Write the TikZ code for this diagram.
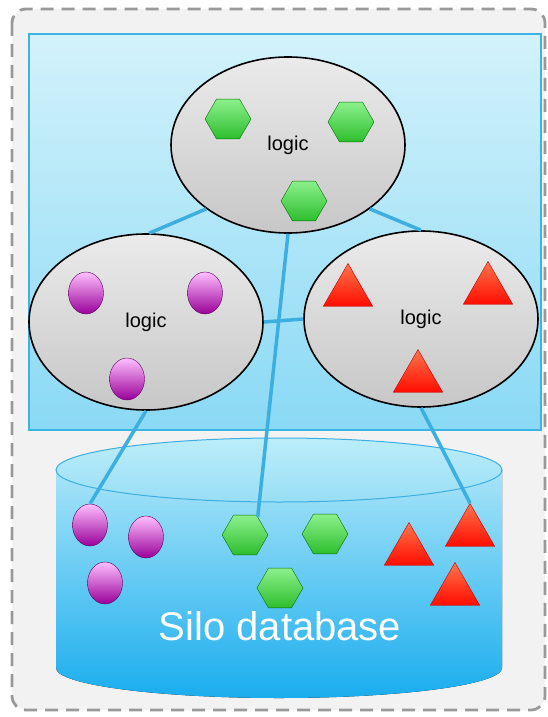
\documentclass[tikz,border=0pt]{standalone}
\usepackage{fontspec}
\setmainfont{Liberation Sans}
\usetikzlibrary{shapes.geometric}
\definecolor{linkblue}{HTML}{3DAEE0}
\definecolor{frameblue}{HTML}{3BB3E3}
\definecolor{skytop}{HTML}{D3F2FB}
\definecolor{skybot}{HTML}{8AD9F5}
\definecolor{dbtop}{HTML}{A8E4F8}
\definecolor{dbbot}{HTML}{1AADEE}
\definecolor{lidtop}{HTML}{BCEDFA}
\definecolor{lidbot}{HTML}{98DEF5}
\definecolor{hextop}{HTML}{8CF08C}
\definecolor{hexbot}{HTML}{2DBE2D}
\begin{document}
\begin{tikzpicture}
          [x=1pt,y=-1pt,
           logicbox/.style={draw, ellipse, line width=1.6pt, minimum width=234pt, minimum height=176pt, top color=black!8, bottom color=black!22, font=\fontsize{20}{24}\selectfont},
           hexa/.style={draw=green!45!black, regular polygon, regular polygon sides=6, minimum size=46pt, inner sep=0pt, top color=hextop, bottom color=hexbot},
           ball/.style={draw=violet!70!black, ellipse, minimum width=35pt, minimum height=42pt, inner sep=0pt, top color=magenta!25, bottom color=violet!80!magenta},
           tri/.style={draw=red!75!black, regular polygon, regular polygon sides=3, minimum size=57pt, inner sep=0pt, top color=red!55!orange!70, bottom color=red!90!orange},
           link/.style={draw=linkblue, line width=3.5pt}]
        \useasboundingbox (0,0) rectangle (548,717);
        \draw[fill=black!5, draw=black!40, line width=2.8pt, dash pattern=on 13pt off 8pt, rounded corners=14pt] (12,9) rectangle (545,710);
        \draw[frameblue, line width=1.2pt, top color=skytop, bottom color=skybot] (29,34) rectangle (541,430);

        % database
        \fill[top color=dbtop, bottom color=dbbot] (56,470) -- (56,668) arc[x radius=223pt, y radius=30pt, start angle=180, end angle=360] -- (502,470) -- cycle;
        \draw[linkblue, line width=1pt, top color=lidtop, bottom color=lidbot] (279,470) ellipse[x radius=223pt, y radius=32pt];
        \node[text=white, font=\fontsize{40}{48}\selectfont] (db) at (280,626) {Silo database};

        \node[logicbox] (top) at (288,145) {logic};
        \node[logicbox] (left) at (146,322) {logic};
        \node[logicbox] (right) at (421,319) {logic};

        \node[hexa] (h1) at (228,119) {};
        \node[hexa] (h2) at (351,122) {};
        \node[hexa] (h3) at (304,201) {};
        \node[ball] (b1) at (86,293) {};
        \node[ball] (b2) at (205,293) {};
        \node[ball] (b3) at (127,379) {};
        \node[tri] (t1) at (348,292) {};
        \node[tri] (t2) at (488,290) {};
        \node[tri] (t3) at (418,378) {};

        \node[ball] (cb1) at (90,525) {};
        \node[ball] (cb2) at (146,537) {};
        \node[ball] (cb3) at (105,583) {};
        \node[hexa] (ch1) at (245,535) {};
        \node[hexa] (ch2) at (325,534) {};
        \node[hexa] (ch3) at (280,588) {};
        \node[tri] (ct1) at (409,551) {};
        \node[tri] (ct2) at (470,532) {};
        \node[tri] (ct3) at (455,591) {};

        \foreach \from/\to in {top.218/left.88, top.-38/right.90, left.east/right.west, top.south/ch1.55, left.south/cb1.north, right.south/ct2.corner 1}
          \draw[link] (\from) -- (\to);
      \end{tikzpicture}
\end{document}
